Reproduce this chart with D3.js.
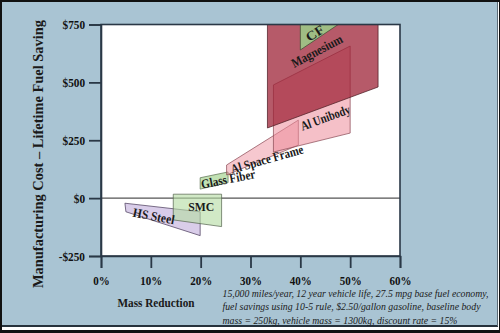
<!DOCTYPE html>
<html>
<head>
<meta charset="utf-8">
<script src="https://cdn.jsdelivr.net/npm/d3@7"></script>
<style>
  html, body { margin: 0; padding: 0; background: #fff; }
  svg { display: block; }
</style>
</head>
<body>
<svg id="chart" width="500" height="333"></svg>
<script>
// ---------------- data ----------------
const materials = ["HS Steel", "SMC", "Glass Fiber", "Al Space Frame", "Al Unibody", "Magnesium", "CF"];
// polygon vertices: [mass reduction %, manufacturing cost - lifetime fuel saving $]
const hsSteel      = [[4.8, -22], [19.9, -59], [19.9, -162], [5.0, -59]];
const smc          = [[14.5, 17], [24.2, 17], [24.2, -123], [14.5, -94]];
const glassFiber   = [[19.9, 88], [25.5, 113], [25.5, 67], [19.9, 39]];
const alSpaceFrame = [[25.2, 143], [39.6, 337], [39.6, 229], [25.2, 100]];
const alUnibody    = [[34.6, 489], [50.0, 657], [50.0, 281], [34.6, 199]];
const magnesium    = [[33.4, 750], [55.6, 750], [55.6, 480], [33.4, 303]];
const carbonFiber  = [[40.0, 750], [47.6, 750], [40.0, 640]];
const xTicks = [0, 10, 20, 30, 40, 50, 60];
const yTicks = [750, 500, 250, 0, -250];
const noteLines = [
  "15,000 miles/year, 12 year vehicle life, 27.5 mpg base fuel economy,",
  "fuel savings using 10-5 rule, $2.50/gallon gasoline, baseline body",
  "mass = 250kg, vehicle mass = 1300kg, discount rate = 15%"
];
const yTitle = "Manufacturing Cost \u2013 Lifetime Fuel Saving";
const xTitle = "Mass Reduction";

// ---------------- layout / style ----------------
const W = 500, H = 333;
const plot = { left: 101, right: 400, top: 24.5, bottom: 256 };
const x = d3.scaleLinear().domain([0, 60]).range([plot.left, plot.right]);
const y = d3.scaleLinear().domain([-250, 750]).range([plot.bottom, plot.top]);
const FONT = "'Liberation Serif', 'Times New Roman', 'DejaVu Serif', serif";

const styles = {
  "HS Steel":       { fill: "#c2aedb", op: 0.62, stroke: "#4a3a5a" },
  "SMC":            { fill: "#b5dca3", op: 0.62, stroke: "#55654f" },
  "Glass Fiber":    { fill: "#a9d596", op: 0.72, stroke: "#5a7050" },
  "Al Space Frame": { fill: "#ec8c9a", op: 0.48, stroke: "#8a4a55" },
  "Al Unibody":     { fill: "#ec8c9a", op: 0.55, stroke: "#8a4a55" },
  "Magnesium":      { fill: "#9c2035", op: 0.74, stroke: "#4a1a22" },
  "CF":             { fill: "#9fbd84", op: 1.0,  stroke: "#3a4a30" }
};
const polys = {
  "HS Steel": hsSteel, "SMC": smc, "Glass Fiber": glassFiber,
  "Al Space Frame": alSpaceFrame, "Al Unibody": alUnibody,
  "Magnesium": magnesium, "CF": carbonFiber
};
// label anchor (data units), rotation and rendered length (px)
const labelPos = {
  "CF":             { m: 42.9, c: 713, rot: -33, len: 19 },
  "Magnesium":      { m: 43.3, c: 636, rot: -28, len: 56 },
  "Al Unibody":     { m: 45.0, c: 348, rot: -20, len: 52 },
  "Al Space Frame": { m: 33.3, c: 169, rot: -16, len: 75 },
  "Glass Fiber":    { m: 25.5, c: 83,  rot: -11, len: 55 },
  "SMC":            { m: 20.1, c: -38, rot: 0,   len: 26 },
  "HS Steel":       { m: 10.6, c: -77, rot: 11,  len: 42 }
};

function fit(sel, w) {
  sel.attr("textLength", w).attr("lengthAdjust", "spacingAndGlyphs");
}

const svg = d3.select("#chart");

// outer frame
svg.append("rect").attr("x", 0).attr("y", 0).attr("width", W).attr("height", H).attr("fill", "#111");
svg.append("rect").attr("x", 2).attr("y", 2).attr("width", W - 3).attr("height", H - 5).attr("fill", "#fff");
svg.append("rect").attr("x", 2).attr("y", 2).attr("width", W - 4).attr("height", 324).attr("fill", "#a9c4d3");
svg.append("line").attr("x1", 2).attr("x2", 498).attr("y1", 326).attr("y2", 326)
  .attr("stroke", "#26323c").attr("stroke-width", 2);
svg.append("line").attr("x1", 497.5).attr("x2", 497.5).attr("y1", 2).attr("y2", 326)
  .attr("stroke", "#5a6a75").attr("stroke-width", 1);

// plot area
svg.append("rect")
  .attr("x", plot.left).attr("y", plot.top)
  .attr("width", plot.right - plot.left).attr("height", plot.bottom - plot.top)
  .attr("fill", "#fff");

// zero line
svg.append("line")
  .attr("x1", x(0)).attr("x2", x(60)).attr("y1", y(0)).attr("y2", y(0))
  .attr("stroke", "#555").attr("stroke-width", 1.2);

// polygons
const order = ["HS Steel", "SMC", "Glass Fiber", "Al Space Frame", "Al Unibody", "Magnesium", "CF"];
const line = d3.line().x(d => x(d[0])).y(d => y(d[1])).curve(d3.curveLinearClosed);
svg.append("g").selectAll("path").data(order).join("path")
  .attr("d", d => line(polys[d]))
  .attr("fill", d => styles[d].fill)
  .attr("fill-opacity", d => styles[d].op)
  .attr("stroke", d => styles[d].stroke)
  .attr("stroke-opacity", 0.8)
  .attr("stroke-width", 0.9);

// plot frame
svg.append("rect")
  .attr("x", plot.left).attr("y", plot.top)
  .attr("width", plot.right - plot.left).attr("height", plot.bottom - plot.top)
  .attr("fill", "none").attr("stroke", "#2a3846").attr("stroke-width", 1.6);

// labels
svg.append("g").selectAll("text").data(materials).join("text")
  .attr("font-family", FONT)
  .attr("transform", d => `translate(${x(labelPos[d].m)},${y(labelPos[d].c)}) rotate(${labelPos[d].rot})`)
  .attr("text-anchor", "middle")
  .attr("dy", "0.35em")
  .attr("font-size", 13)
  .attr("font-weight", "bold")
  .attr("fill", "#1a1a1a")
  .text(d => d)
  .each(function (d) { fit(d3.select(this), labelPos[d].len); });

// axes
const fmt = d => d < 0 ? "-$" + (-d) : "$" + d;
const yAxis = svg.append("g").attr("transform", `translate(${plot.left},0)`)
  .call(d3.axisLeft(y).tickValues(yTicks).tickFormat(fmt).tickSize(12).tickPadding(4));
const xAxis = svg.append("g").attr("transform", `translate(0,${plot.bottom})`)
  .call(d3.axisBottom(x).tickValues(xTicks).tickFormat(d => d + "%").tickSize(12).tickPadding(8));
[yAxis, xAxis].forEach(a => {
  a.select(".domain").attr("stroke", "#2a3846").attr("stroke-width", 1.6);
  a.selectAll(".tick line").attr("stroke", "#2a3846").attr("stroke-width", 1.8);
  a.selectAll(".tick text")
    .attr("font-family", FONT)
    .attr("font-weight", "bold").attr("font-size", 12.5).attr("fill", "#111");
});
// condense tick labels to the reference's narrow serif widths
function condense(axisG, refText, refWidth) {
  const texts = axisG.selectAll(".tick text");
  let refLen = null;
  texts.each(function () { if (this.textContent === refText) refLen = this.getComputedTextLength(); });
  const f = refLen ? refWidth / refLen : 1;
  texts.each(function () {
    fit(d3.select(this), this.getComputedTextLength() * f);
  });
}
condense(yAxis, "$750", 22.5);
condense(xAxis, "10%", 22);

// titles
fit(svg.append("text")
  .attr("font-family", FONT)
  .attr("transform", "translate(38,154) rotate(-90)")
  .attr("text-anchor", "middle").attr("dy", "0.35em")
  .attr("font-size", 14).attr("font-weight", "bold").attr("fill", "#1a1a1a")
  .text(yTitle), 268);
fit(svg.append("text")
  .attr("font-family", FONT)
  .attr("x", 156).attr("y", 307)
  .attr("text-anchor", "middle")
  .attr("font-size", 13).attr("font-weight", "bold").attr("fill", "#1a1a1a")
  .text(xTitle), 77);

// note
const noteWidths = [266, 258, 235];
svg.append("g").selectAll("text").data(noteLines).join("text")
  .attr("font-family", FONT)
  .attr("x", 222.5).attr("y", (d, i) => 297 + i * 13.3)
  .attr("font-size", 10).attr("font-style", "italic").attr("fill", "#1a1a1a")
  .text(d => d)
  .each(function (d, i) { fit(d3.select(this), noteWidths[i]); });
</script>
</body>
</html>
